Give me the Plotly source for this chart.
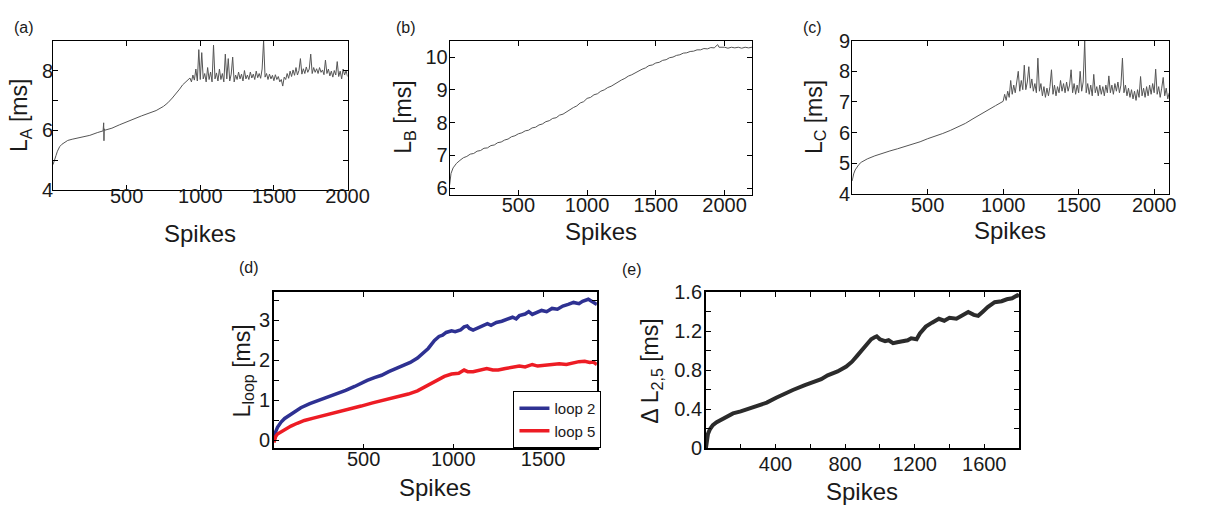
import plotly.graph_objects as go

W, H = 1205, 515
FONT = "Liberation Sans, Arial, Helvetica, sans-serif"

# ---------------- (a) latency L_A ----------------
spikes_a = [0, 5, 10, 20, 30, 45, 60, 80, 100, 130, 160, 200, 250, 300, 340, 344, 346, 348, 350,
            400, 450, 500, 550, 600, 650, 700, 750, 780, 810, 840, 860, 880, 900, 920] + \
           list(range(930, 2001, 10))
latency_a = [4.85, 4.95, 5.05, 5.15, 5.3, 5.45, 5.53, 5.6, 5.66, 5.7, 5.73, 5.77, 5.83, 5.92, 5.98,
             6.25, 5.65, 6.05, 6.0,
             6.07, 6.18, 6.29, 6.38, 6.48, 6.57, 6.66, 6.8, 6.92, 7.08, 7.25, 7.38, 7.52, 7.62, 7.7,
             7.75, 7.62, 7.85, 7.68, 8.05, 7.65, 8.7, 7.7, 8.6, 7.72,
             7.9, 7.62, 8.1, 7.7, 7.95, 7.62, 8.85, 7.72, 7.92, 7.65,
             8.05, 7.7, 7.9, 7.62, 8.55, 7.72, 8.4, 7.65, 7.88, 8.45,
             7.62, 7.85, 7.7, 7.95, 7.72, 7.88, 7.65, 8.0, 7.72, 7.85,
             7.7, 7.95, 7.75, 7.88, 7.7, 7.98, 7.76, 7.9, 7.74, 8.05,
             9.0, 7.78, 7.9, 7.7, 7.88, 7.72, 7.84, 7.66, 7.86, 7.7,
             7.8, 7.62, 7.7, 7.48, 7.78, 7.7, 7.9, 7.74, 7.98, 7.8,
             8.02, 7.84, 8.1, 7.85, 8.0, 8.4, 7.88, 8.06, 7.9, 8.12,
             7.94, 8.05, 8.55, 7.9, 8.1, 7.94, 8.06, 7.9, 8.1, 7.94,
             8.02, 7.86, 8.35, 7.9, 8.05, 7.82, 7.98, 7.78, 8.0, 7.85,
             8.3, 7.8, 7.98, 7.72, 8.05, 7.85, 8.0, 7.8]

# ---------------- (b) latency L_B ----------------
spikes_b = [0, 10] + list(range(25, 1951, 25)) + [1960, 1975, 2000, 2025, 2050, 2075, 2100, 2125,
                                                   2150, 2175, 2200]
latency_b = [6.1, 6.45, 6.62, 6.76, 6.85, 6.93, 6.97, 7.04, 7.06, 7.13, 7.15, 7.22,
             7.23, 7.3, 7.32, 7.39, 7.41, 7.47, 7.5, 7.57, 7.6, 7.66,
             7.69, 7.75, 7.77, 7.84, 7.86, 7.93, 7.96, 8.03, 8.06, 8.13,
             8.15, 8.23, 8.26, 8.33, 8.38, 8.46, 8.51, 8.6, 8.64, 8.74,
             8.77, 8.85, 8.88, 8.96, 9.0, 9.07, 9.11, 9.18, 9.23, 9.3,
             9.35, 9.42, 9.46, 9.52, 9.57, 9.63, 9.67, 9.74, 9.76, 9.82,
             9.84, 9.9, 9.92, 9.98, 10.0, 10.05, 10.07, 10.12, 10.13, 10.17,
             10.18, 10.22, 10.22, 10.26, 10.25, 10.29, 10.28, 10.38,
             10.3, 10.3, 10.3, 10.27, 10.3, 10.28, 10.3, 10.27, 10.3, 10.28, 10.3]

# ---------------- (c) latency L_C ----------------
spikes_c = [0, 5, 10, 20, 30, 45, 60, 80, 100, 150, 200, 250, 300, 350, 400, 450, 500,
            550, 600, 650, 700, 750, 800, 850, 900, 950, 1000] + list(range(1010, 2101, 10))
latency_c = [4.42, 4.55, 4.65, 4.78, 4.87, 4.96, 5.03, 5.09, 5.14, 5.24, 5.33, 5.4, 5.47,
             5.54, 5.62, 5.7, 5.8, 5.88, 5.97, 6.07, 6.18, 6.3, 6.45, 6.6, 6.75, 6.88, 7.02,
             7.25, 7.05, 7.35, 7.15, 7.7, 7.25, 7.55, 7.3, 7.75, 8.0,
             7.35, 7.7, 7.4, 8.2, 7.4, 7.65, 8.15, 7.45, 7.75, 7.35,
             7.6, 7.3, 8.43, 7.35, 7.6, 7.2, 7.5, 7.15, 7.45, 7.2,
             7.5, 8.05, 7.25, 7.55, 7.2, 7.5, 7.3, 7.7, 7.35, 7.6,
             7.3, 7.65, 7.35, 7.55, 8.05, 7.3, 7.6, 7.25, 7.55, 7.3,
             8.0, 7.35, 7.65, 9.0, 7.3, 7.6, 7.25, 7.55, 7.2, 7.9,
             7.3, 7.5, 7.2, 7.55, 7.25, 7.5, 7.2, 7.55, 7.3, 7.85,
             7.3, 7.55, 7.25, 7.6, 7.35, 7.65, 7.3, 7.55, 8.43, 7.3,
             7.55, 7.2, 7.45, 7.15, 7.4, 7.1, 7.35, 7.05, 7.4, 7.15,
             7.83, 7.2, 7.45, 7.15, 7.5, 7.2, 7.55, 7.25, 7.6, 7.3,
             8.07, 7.25, 7.5, 7.15, 7.45, 7.8, 7.2, 7.45, 7.1, 7.3]

# ---------------- (d) loop latencies ----------------
spikes_loop2 = [0, 10, 20, 40, 60, 95, 120, 150, 200, 250, 277, 300, 350, 400, 450, 486, 520,
                560, 600, 640, 680, 720, 760, 800, 822, 860, 895, 920, 940, 960, 990, 1010,
                1040, 1060, 1077, 1090, 1110, 1140, 1170, 1190, 1210, 1240, 1270, 1300, 1330,
                1350, 1368, 1400, 1420, 1440, 1470, 1492, 1520, 1550, 1580, 1610, 1640, 1670,
                1700, 1720, 1752, 1770, 1790, 1800]
latency_loop2 = [0.0, 0.22, 0.33, 0.46, 0.55, 0.66, 0.74, 0.82, 0.92, 1.0, 1.05, 1.09, 1.16,
                 1.25, 1.35, 1.44, 1.5, 1.57, 1.63, 1.72, 1.8, 1.87, 1.95, 2.06, 2.15, 2.3, 2.5,
                 2.6, 2.63, 2.7, 2.74, 2.72, 2.76, 2.84, 2.86, 2.8, 2.76, 2.82, 2.88, 2.92, 2.88,
                 2.95, 2.98, 3.04, 3.08, 3.04, 3.12, 3.16, 3.22, 3.15, 3.2, 3.25, 3.22, 3.3, 3.28,
                 3.36, 3.4, 3.45, 3.42, 3.48, 3.53, 3.48, 3.45, 3.4]
spikes_loop5 = [0, 10, 20, 40, 60, 95, 130, 170, 220, 277, 330, 400, 486, 550, 640, 700, 749,
                800, 860, 913, 950, 990, 1030, 1060, 1080, 1110, 1150, 1186, 1220, 1250, 1290,
                1330, 1368, 1400, 1440, 1470, 1510, 1550, 1590, 1630, 1670, 1700, 1732, 1760,
                1780, 1800]
latency_loop5 = [-0.05, 0.1, 0.16, 0.22, 0.28, 0.36, 0.43, 0.5, 0.56, 0.62, 0.68, 0.75, 0.86,
                 0.94, 1.04, 1.1, 1.16, 1.24, 1.38, 1.52, 1.6, 1.66, 1.68, 1.76, 1.72, 1.72,
                 1.76, 1.8, 1.76, 1.76, 1.8, 1.84, 1.86, 1.84, 1.9, 1.86, 1.88, 1.9, 1.92, 1.9,
                 1.95, 1.97, 1.98, 1.95, 1.96, 1.9]

# ---------------- (e) latency difference ----------------
spikes_e = [0, 5, 12, 24, 40, 62, 100, 156, 200, 250, 300, 350, 404, 450, 500, 569, 620, 663,
            700, 757, 807, 840, 869, 900, 926, 950, 970, 982, 1000, 1030, 1050, 1076, 1100,
            1130, 1160, 1180, 1211, 1230, 1264, 1300, 1339, 1370, 1400, 1440, 1470, 1508,
            1540, 1565, 1590, 1620, 1660, 1700, 1730, 1760, 1790, 1800]
delta_e = [0.0, 0.08, 0.15, 0.2, 0.24, 0.27, 0.31, 0.36, 0.38, 0.41, 0.44, 0.47, 0.52, 0.56,
           0.6, 0.65, 0.68, 0.71, 0.75, 0.79, 0.84, 0.89, 0.95, 1.02, 1.08, 1.12, 1.14, 1.15,
           1.12, 1.1, 1.11, 1.08, 1.09, 1.1, 1.11, 1.13, 1.12, 1.18, 1.25, 1.29, 1.33, 1.31,
           1.34, 1.33, 1.36, 1.4, 1.37, 1.36, 1.4, 1.45, 1.5, 1.51, 1.53, 1.54, 1.57, 1.56]

# panel boxes in pixels: left, right, top, bottom
boxes = {
    "a": (54, 354, 31, 187),
    "b": (458, 766, 31, 192),
    "c": (868, 1191, 31, 191),
    "d": (279, 608, 294, 457),
    "e": (719, 1038, 294, 457),
}


def px(x):
    return x / W


def py(y):
    return 1 - y / H


fig = go.Figure()

gray = "#555555"
fig.add_trace(go.Scatter(x=spikes_a, y=latency_a, mode="lines", xaxis="x", yaxis="y",
                         line=dict(color=gray, width=1), showlegend=False))
fig.add_trace(go.Scatter(x=spikes_b, y=latency_b, mode="lines", xaxis="x2", yaxis="y2",
                         line=dict(color=gray, width=1), showlegend=False))
fig.add_trace(go.Scatter(x=spikes_c, y=latency_c, mode="lines", xaxis="x3", yaxis="y3",
                         line=dict(color=gray, width=1), showlegend=False))
fig.add_trace(go.Scatter(x=spikes_loop2, y=latency_loop2, mode="lines", xaxis="x4", yaxis="y4",
                         line=dict(color="#2e3192", width=3.5), name="loop 2"))
fig.add_trace(go.Scatter(x=spikes_loop5, y=latency_loop5, mode="lines", xaxis="x4", yaxis="y4",
                         line=dict(color="#ed1c24", width=3.5), name="loop 5"))
fig.add_trace(go.Scatter(x=spikes_e, y=delta_e, mode="lines", xaxis="x5", yaxis="y5",
                         line=dict(color="#2b2b2b", width=4), showlegend=False))


def axis(domain, rng, tickvals, minor_vals=None, lw=1, standoff=0, anchor=None):
    d = dict(domain=domain, range=rng, tickmode="array", tickvals=tickvals,
             showline=True, linecolor="black", linewidth=lw, mirror="ticks",
             ticks="inside", ticklen=5, tickcolor="black", tickwidth=1,
             showgrid=False, zeroline=False, anchor=anchor,
             tickfont=dict(family=FONT, size=20, color="#1a1a1a"),
             ticklabelstandoff=standoff)
    if minor_vals:
        d["minor"] = dict(tickmode="array", tickvals=minor_vals, ticks="inside",
                          ticklen=5, tickcolor="black")
    return d


specs = {
    "a": dict(xr=[0, 2000], xt=[500, 1000, 1500, 2000], xm=None,
              yr=[4, 9], yt=[4, 6, 8], ym=[5, 7, 9], lw=1, xs=-12, ys=-5),
    "b": dict(xr=[0, 2200], xt=[500, 1000, 1500, 2000], xm=None,
              yr=[5.8, 10.5], yt=[6, 7, 8, 9, 10], ym=None, lw=1, xs=-8, ys=-3),
    "c": dict(xr=[0, 2100], xt=[500, 1000, 1500, 2000], xm=None,
              yr=[4, 9], yt=[4, 5, 6, 7, 8, 9], ym=None, lw=1, xs=-7, ys=-3),
    "d": dict(xr=[0, 1800], xt=[500, 1000, 1500], xm=None,
              yr=[-0.2, 3.7], yt=[0, 1, 2, 3], ym=[0.5, 1.5, 2.5, 3.5], lw=1.6, xs=-8, ys=-2),
    "e": dict(xr=[0, 1800], xt=[400, 800, 1200, 1600], xm=[200, 600, 1000, 1400],
              yr=[0, 1.6], yt=[0, 0.4, 0.8, 1.2, 1.6], ym=[0.2, 0.6, 1.0, 1.4], lw=1.6,
              xs=-3, ys=-2),
}

layout_axes = {}
for i, key in enumerate(["a", "b", "c", "d", "e"]):
    l, r, t, b = boxes[key]
    s = specs[key]
    sx = "" if i == 0 else str(i + 1)
    layout_axes["xaxis" + sx] = axis([px(l), px(r)], s["xr"], s["xt"], s["xm"], s["lw"],
                                     standoff=s["xs"], anchor="y" + sx)
    layout_axes["yaxis" + sx] = axis([py(b), py(t)], s["yr"], s["yt"], s["ym"], s["lw"],
                                     standoff=s["ys"], anchor="x" + sx)

annotations = []


def text(x, y, s, size, angle=0):
    annotations.append(dict(x=px(x), y=py(y), xref="paper", yref="paper", text=s,
                            showarrow=False, textangle=angle, xanchor="center",
                            yanchor="middle", font=dict(family=FONT, size=size, color="#1a1a1a")))


# panel letters
for lbl, x, y in [("(a)", 24, 17), ("(b)", 414, 17), ("(c)", 828, 17),
                  ("(d)", 254, 268), ("(e)", 644, 270)]:
    text(x, y, lbl, 16)

# x titles
for x, y in [(204, 232), (612, 230), (1029, 229), (443, 498), (878, 502)]:
    text(x, y, "Spikes", 24)

# y titles
text(21, 109, "L<sub>A</sub> [ms]", 23, -90)
text(412, 111, "L<sub>B</sub> [ms]", 23, -90)
text(830, 111, "L<sub>C</sub> [ms]", 23, -90)
text(248, 376, "L<sub>loop</sub> [ms]", 23, -90)
text(664, 376, "Δ L<sub>2,5</sub> [ms]", 23, -90)

fig.update_layout(
    width=W, height=H, margin=dict(l=0, r=0, t=0, b=0),
    paper_bgcolor="white", plot_bgcolor="white",
    annotations=annotations,
    legend=dict(x=px(523), y=py(397), xanchor="left", yanchor="top",
                bordercolor="black", borderwidth=1, bgcolor="white",
                font=dict(family=FONT, size=15, color="#1a1a1a"),
                itemwidth=30, tracegroupgap=0),
    **layout_axes,
)

fig.write_html("out.html")
